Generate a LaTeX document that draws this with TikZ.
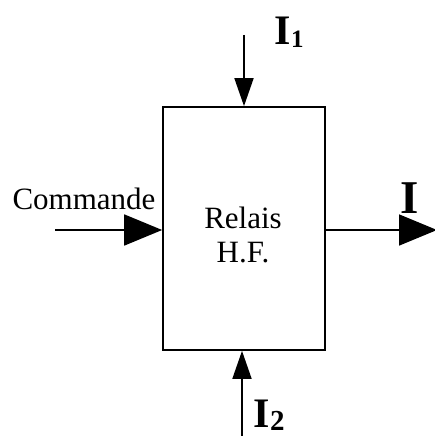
\documentclass[tikz,border=0pt]{standalone}
\usepackage{fontspec}
\setmainfont{Liberation Serif}
\usetikzlibrary{arrows.meta}
\begin{document}
\begin{tikzpicture}[x=1pt,y=-1pt,
  line width=1.7pt,
  varr/.style={-{Triangle[length=28pt,width=19pt]}},
  harr/.style={-{Triangle[length=38pt,width=31pt]}},
  lbl/.style={inner sep=0pt,font=\fontsize{31}{36}\selectfont},
  cur/.style={inner sep=0pt,font=\fontsize{42}{46}\selectfont\bfseries}]
\useasboundingbox (0,0) rectangle (434,436);
\node[draw, minimum width=162pt, minimum height=243pt, inner sep=0pt] (box) at (244,228.5) {};
\node[lbl, align=center, font=\fontsize{31}{34}\selectfont] (txt) at (243,235) {Relais\\H.F.};
\coordinate (tin) at (244,35);
\coordinate (bin) at (242,436);
\coordinate (lin) at (55,230);
\coordinate (rout) at (437,230);
\draw[varr] (tin) -- (box.north);
\draw[varr] (bin) -- (box.south -| bin);
\draw[harr] (lin) -- (box.west |- lin);
\draw[harr] (box.east |- rout) -- (rout);
\node[lbl, anchor=base] (cmd) at (84,209) {Commande};
\node[cur, anchor=base west] (i1) at (274,45) {I\raisebox{-3pt}{\fontsize{25}{27}\selectfont 1}};
\node[cur, anchor=base west] (i2) at (253,427) {I\raisebox{-3pt}{\fontsize{29}{31}\selectfont 2}};
\node[cur, anchor=base, font=\fontsize{47}{50}\selectfont\bfseries] (iout) at (410,213) {I};
\end{tikzpicture}
\end{document}
